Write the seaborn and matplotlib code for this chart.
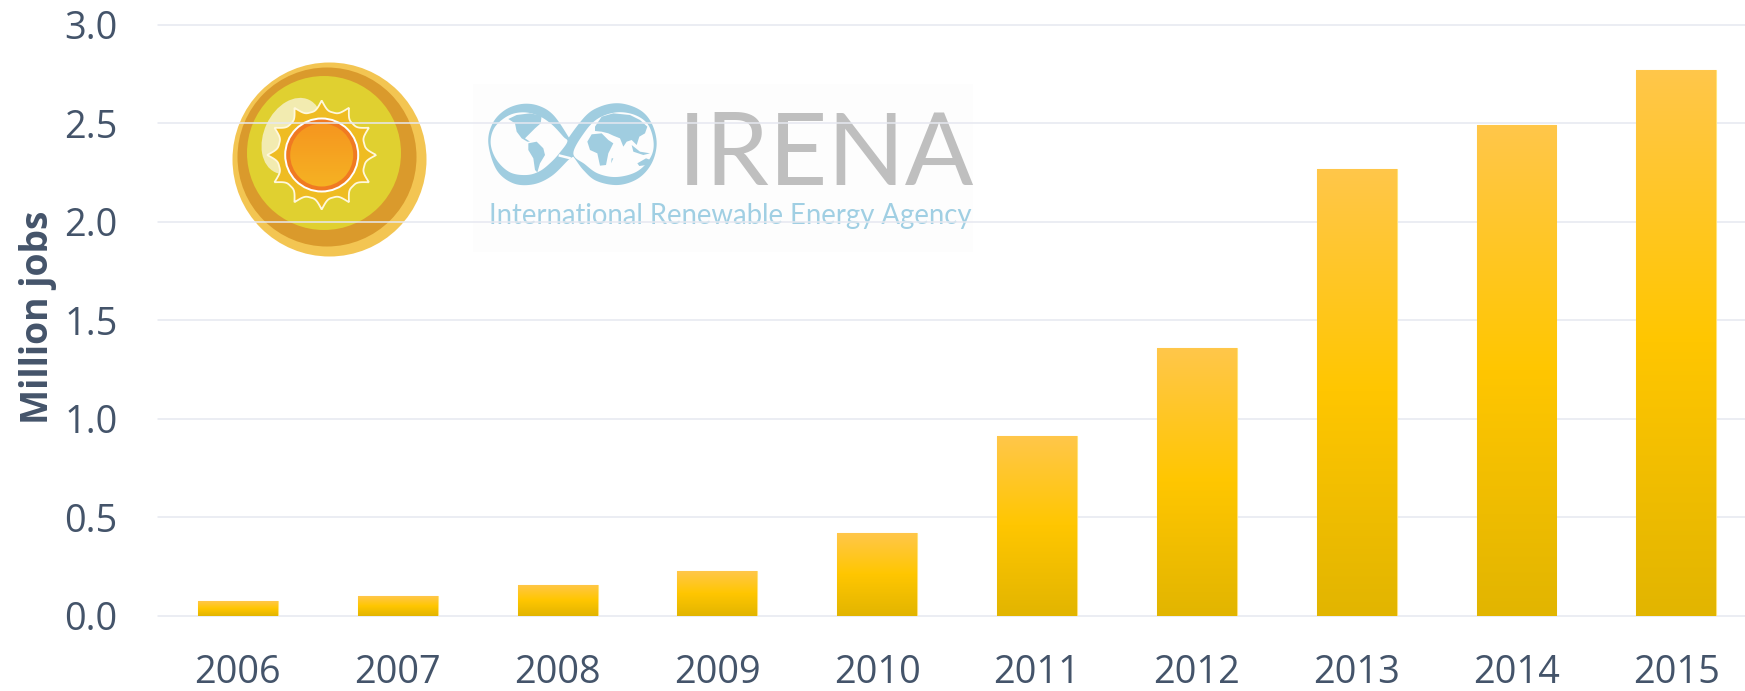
import numpy as np
import pandas as pd
import matplotlib
matplotlib.use("Agg")
import matplotlib.pyplot as plt
from matplotlib.colors import LinearSegmentedColormap
from matplotlib.patches import Circle, Ellipse, Polygon, Rectangle
import seaborn as sns

years = ["2006", "2007", "2008", "2009", "2010", "2011", "2012", "2013", "2014", "2015"]
jobs = [0.073, 0.098, 0.158, 0.226, 0.418, 0.91, 1.36, 2.27, 2.49, 2.77]
y_ticks = [0.0, 0.5, 1.0, 1.5, 2.0, 2.5, 3.0]
y_label = "Million jobs"

W, H = 1745, 691
TEXT = "#44546A"
GRID = "#E6E8F0"

sns.set_theme(style="white")
plt.rcParams["font.family"] = ["Open Sans", "DejaVu Sans"]

fig = plt.figure(figsize=(W / 100, H / 100), dpi=100, facecolor="white")

# ---------- background logos, in pixel coordinates ----------
bg = fig.add_axes([0, 0, 1, 1], zorder=0)
bg.set_xlim(0, W)
bg.set_ylim(H, 0)
bg.axis("off")

# Sun badge
bg.add_patch(Circle((329.5, 159.5), 97, fc="#F3C552", ec="none"))
bg.add_patch(Circle((327, 157), 89.5, fc="#DA9A2C", ec="none"))
bg.add_patch(Circle((324, 153), 77, fc="#E0D030", ec="none"))
bg.add_patch(Ellipse((292, 136), 56, 80, angle=25, fc="#F2EBB0", ec="none"))
cx, cy = 321.7, 155
theta = np.linspace(0, 2 * np.pi, 1441)
rad = 44 + 10.5 * (1 - np.abs(np.sin(6 * theta))) ** 1.6
star = np.column_stack([cx + rad * np.cos(theta), cy + rad * np.sin(theta)])
bg.add_patch(Polygon(star, closed=True, fc="#EFBC22", ec="#FFF8DC", lw=1.3))
bg.add_patch(Circle((cx, cy), 37.5, fc="white", ec="none"))
bg.add_patch(Circle((cx, cy), 35.5, fc="#F07A22", ec="none"))
sun_core = Circle((cx, cy), 31.5, transform=bg.transData, fc="none", ec="none")
bg.add_patch(sun_core)
sun_cmap = LinearSegmentedColormap.from_list("sun", ["#F5961F", "#F5B223"])
im = bg.imshow(np.linspace(0, 1, 64).reshape(-1, 1), cmap=sun_cmap, aspect="auto",
               extent=[cx - 32, cx + 32, cy + 32, cy - 32], origin="upper", zorder=3)
im.set_clip_path(sun_core)
bg.set_xlim(0, W)
bg.set_ylim(H, 0)

# IRENA logo: outline sketch in a 3x local frame starting at 480, 95
def lp(pts):
    return [(480 + x / 3, 95 + y / 3) for x, y in pts]

def smooth(pts, n=12):
    p = np.array(lp(pts), dtype=float)
    out = []
    for i in range(len(p)):
        p0, p1, p2, p3 = p[i - 1], p[i], p[(i + 1) % len(p)], p[(i + 2) % len(p)]
        for t in np.linspace(0, 1, n, endpoint=False):
            out.append(0.5 * (2 * p1 + (p2 - p0) * t + (2 * p0 - 5 * p1 + 4 * p2 - p3) * t ** 2
                              + (3 * p1 - p0 - 3 * p2 + p3) * t ** 3))
    return np.array(out)

PAPER = "#FDFDFD"
BLUE = "#A0CDE0"
bg.add_patch(Rectangle((473, 84), 500, 168, fc=PAPER, ec="none"))

lobe_left = [(25, 145), (38, 85), (75, 45), (125, 27), (175, 32), (220, 60), (265, 125), (290, 172),
             (265, 195), (215, 243), (160, 268), (100, 265), (50, 225)]
lobe_right = [(530, 145), (515, 85), (480, 45), (420, 25), (360, 35), (310, 70), (245, 165), (275, 180),
              (310, 225), (350, 258), (415, 270), (475, 250), (515, 205)]
hole_left = [(32, 145), (44, 97), (85, 62), (130, 52), (175, 62), (215, 88), (250, 125), (262, 140),
             (240, 172), (215, 200), (180, 228), (140, 240), (90, 232), (50, 195)]
hole_right = [(521, 145), (505, 90), (465, 60), (410, 52), (355, 70), (315, 110), (280, 175),
              (315, 208), (355, 236), (410, 246), (470, 230), (510, 190)]
for pts, colour in [(lobe_left, BLUE), (lobe_right, BLUE), (hole_left, PAPER), (hole_right, PAPER)]:
    bg.add_patch(Polygon(smooth(pts), closed=True, fc=colour, ec="none"))

north_america = [(85, 72), (110, 60), (150, 55), (185, 62), (182, 85), (165, 100), (150, 115), (135, 130),
                 (150, 140), (142, 140), (125, 130), (110, 110), (105, 85)]
south_america = [(145, 145), (170, 140), (190, 160), (195, 180), (180, 205), (172, 232), (165, 225),
                 (160, 190), (145, 165)]
eurasia = [(345, 95), (365, 65), (400, 55), (450, 60), (480, 75), (502, 95), (495, 115), (478, 125),
           (470, 150), (455, 135), (440, 140), (430, 155), (420, 130), (400, 122), (385, 115), (365, 110),
           (345, 108)]
africa = [(322, 140), (335, 118), (365, 115), (385, 135), (400, 145), (385, 175), (378, 210), (360, 212),
          (352, 175), (330, 165)]
islands = [(455, 150), (480, 170), (510, 175), (490, 180), (460, 170)]
australia = [(472, 205), (498, 190), (512, 195), (500, 210), (478, 213)]
madagascar = [(395, 190), (400, 190), (393, 205)]
for pts in [north_america, south_america, eurasia, africa, islands, australia, madagascar]:
    bg.add_patch(Polygon(lp(pts), closed=True, fc=BLUE, ec="none"))
gap = np.array(lp([(236, 181), (272, 190)]))
bg.plot(gap[:, 0], gap[:, 1], color=PAPER, lw=1.8, solid_capstyle="butt")
bg.set_xlim(0, W)
bg.set_ylim(H, 0)

bg.text(678, 185, "IRENA", family=["Lato", "DejaVu Sans"], fontweight="normal", fontsize=73,
        color="#BFBFBF", ha="left", va="baseline")
bg.text(489, 224, "International Renewable Energy Agency", family=["Lato", "DejaVu Sans"],
        fontweight="normal", fontsize=19.8, color="#A0CFE3", ha="left", va="baseline")

# ---------- chart ----------
left, right, top, bottom = 158, W, 24.7, 615.7
ax = fig.add_axes([left / W, 1 - bottom / H, (right - left) / W, (bottom - top) / H], zorder=1)
ax.patch.set_alpha(0)

df = pd.DataFrame({"year": years, "jobs": jobs})
sns.barplot(data=df, x="year", y="jobs", color="#FFC600", width=0.5, saturation=1,
            edgecolor="#FFE27A", linewidth=0.8, ax=ax, zorder=2)

bar_cmap = LinearSegmentedColormap.from_list("bar", ["#FFC74A", "#FFC600", "#E2B500"])
grad = np.linspace(0, 1, 256).reshape(-1, 1)
for bar in ax.patches:
    x0, w, h = bar.get_x(), bar.get_width(), bar.get_height()
    img = ax.imshow(grad, cmap=bar_cmap, aspect="auto", origin="upper",
                    extent=[x0, x0 + w, 0, h], zorder=3, interpolation="bilinear")
    img.set_clip_path(bar)

ax.set_xlim(-0.5, 9.43)
ax.set_ylim(0, 3)
ax.set_yticks(y_ticks)
ax.set_yticklabels([f"{v:.1f}" for v in y_ticks])
ax.set_xlabel("")
ax.set_ylabel("")
ax.yaxis.grid(True, color=GRID, lw=1.1)
ax.xaxis.grid(False)
ax.set_axisbelow(True)
for line in ax.get_ygridlines():
    line.set_clip_on(False)
for side in ax.spines:
    ax.spines[side].set_visible(False)
ax.tick_params(axis="y", length=0, pad=29, labelsize=27.3, labelcolor=TEXT)
ax.tick_params(axis="x", length=0, pad=27.5, labelsize=27.3, labelcolor=TEXT)

fig.text(38 / W, 1 - 317 / H, y_label, rotation=90, ha="center", va="center",
         fontsize=26.8, fontweight="bold", color=TEXT)

fig.savefig("out.png", dpi=100, facecolor="white")
